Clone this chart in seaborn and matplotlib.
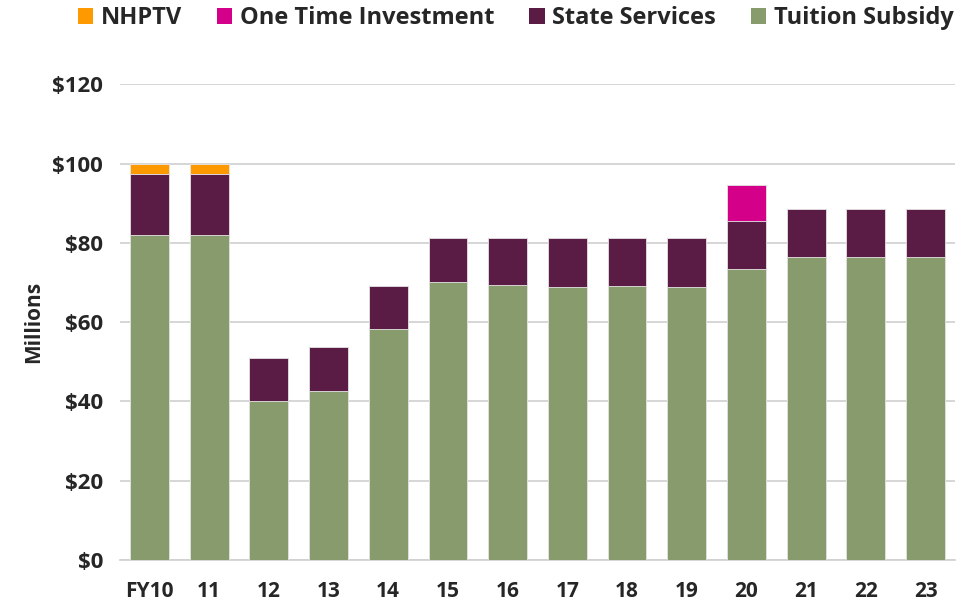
#Libraries
import numpy as np
import pandas as pd
import seaborn as sns
import matplotlib.pyplot as plt
from matplotlib.patches import Patch

#Data (millions of dollars)
years = ["FY10", "11", "12", "13", "14", "15", "16", "17", "18", "19", "20", "21", "22", "23"]
tuition = [82.0, 82.0, 40.1, 42.7, 58.2, 70.2, 69.3, 68.8, 69.0, 68.8, 73.4, 76.4, 76.4, 76.4]
state = [15.3, 15.3, 10.9, 10.9, 10.9, 10.9, 11.8, 12.3, 12.1, 12.3, 12.1, 12.2, 12.2, 12.2]
one_time = [0, 0, 0, 0, 0, 0, 0, 0, 0, 0, 9.0, 0, 0, 0]
nhptv = [2.7, 2.7, 0, 0, 0, 0, 0, 0, 0, 0, 0, 0, 0, 0]

series = ["NHPTV", "One Time Investment", "State Services", "Tuition Subsidy"]
colors = {"NHPTV": "#FF9900", "One Time Investment": "#D5008A",
          "State Services": "#5A1B45", "Tuition Subsidy": "#879B6C"}

#Cumulative tops for stacking (draw tallest first)
df = pd.DataFrame({"year": years})
df["Tuition Subsidy"] = np.array(tuition)
df["State Services"] = df["Tuition Subsidy"] + np.array(state)
df["One Time Investment"] = df["State Services"] + np.array(one_time)
df["NHPTV"] = df["One Time Investment"] + np.array(nhptv)

sns.set_style("white")
plt.rcParams['font.family'] = ['Open Sans', 'DejaVu Sans']

fig = plt.figure(figsize=(9.65, 6.06), dpi=100)
ax = fig.add_axes([0.124, 0.076, 0.866, 0.785])

for s in series:
    sns.barplot(data=df, x="year", y=s, color=colors[s], width=0.65,
                edgecolor="#E6E6E6", linewidth=0.6, saturation=1, ax=ax, zorder=3)

ax.set_ylim(0, 120)
ax.set_xlim(-0.5, len(years) - 0.5)
ax.set_yticks(range(0, 121, 20))
ax.set_yticklabels([f"${v}" for v in range(0, 121, 20)])
ax.yaxis.grid(True, color="#D0D0D0", linewidth=1.2, zorder=0)
ax.set_axisbelow(True)
for sp in ["left", "right", "top"]:
    ax.spines[sp].set_visible(False)
ax.spines["bottom"].set_color("#D0D0D0")
ax.spines["bottom"].set_linewidth(1.2)
ax.tick_params(axis="y", length=0, labelsize=16, pad=12)
ax.tick_params(axis="x", length=0, labelsize=15, pad=15)
for lab in ax.get_xticklabels() + ax.get_yticklabels():
    lab.set_fontweight("bold")
ax.set_xlabel("")
ax.set_ylabel("Millions", fontsize=15, fontweight="bold", labelpad=6)

handles = [Patch(facecolor=colors[s], edgecolor="none") for s in series]
fig.legend(handles, series, loc="upper right", bbox_to_anchor=(1.01, 1.025), ncol=4,
           frameon=False, prop={"size": 17, "weight": "bold"},
           handlelength=0.65, handleheight=0.65, handletextpad=0.3, columnspacing=1.5)

fig.savefig("out.png", dpi=100)
